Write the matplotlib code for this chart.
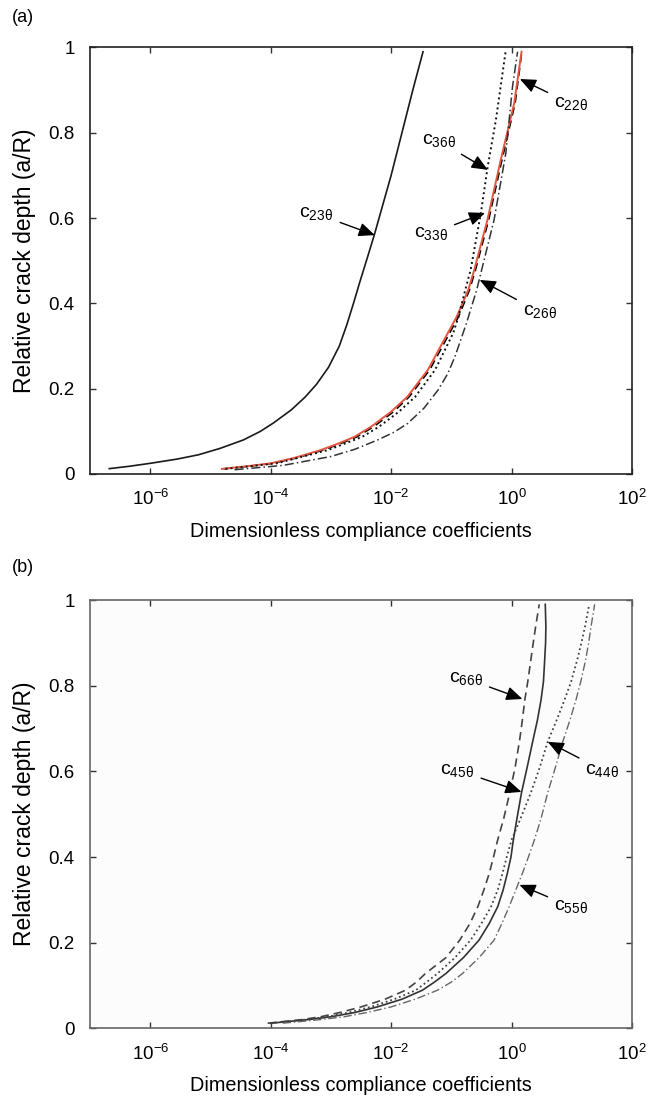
import matplotlib
matplotlib.use("Agg")
import matplotlib.pyplot as plt
import numpy as np

plt.rcParams['font.family'] = ['Liberation Sans', 'DejaVu Sans']
plt.rcParams['mathtext.fontset'] = 'custom'
plt.rcParams['mathtext.rm'] = 'Liberation Sans'
plt.rcParams['mathtext.it'] = 'Liberation Sans:italic'
plt.rcParams['mathtext.default'] = 'regular'
plt.rcParams['axes.unicode_minus'] = False

# ---- panel (a) : log10 of coefficient vs relative crack depth ----
c23_logx = [-6.68, -6.35, -6.0, -5.55, -5.2, -4.84, -4.45, -4.17, -3.95, -3.66, -3.43, -3.24, -3.04,
            -2.95, -2.86, -2.735, -2.625, -2.52, -2.41, -2.28, -2.14, -2.0, -1.82, -1.64, -1.47]
c23_y = [0.0125, 0.018, 0.025, 0.035, 0.045, 0.06, 0.08, 0.10, 0.12, 0.15, 0.18, 0.21, 0.25,
         0.275, 0.30, 0.35, 0.40, 0.45, 0.50, 0.56, 0.63, 0.70, 0.80, 0.90, 0.99]

c33_logx = [-4.81, -4.4, -4.0, -3.6, -3.17, -2.9, -2.61, -2.33, -2.0, -1.73, -1.39, -1.06, -0.91,
            -0.72, -0.62, -0.40, -0.18, 0.045, 0.166]
c33_y = [0.012, 0.018, 0.025, 0.038, 0.056, 0.07, 0.087, 0.111, 0.146, 0.181, 0.244, 0.33, 0.369,
         0.431, 0.478, 0.596, 0.736, 0.87, 0.99]

c22_logx = [-4.78, -4.37, -3.96, -3.56, -3.13, -2.86, -2.57, -2.29, -1.96, -1.70, -1.36, -1.03, -0.88,
            -0.70, -0.60, -0.38, -0.16, 0.06, 0.17]
c22_y = c33_y

c36_logx = [-4.75, -3.9, -3.05, -2.48, -2.2, -1.87, -1.6, -1.27, -0.97, -0.88, -0.77, -0.68, -0.51,
            -0.40, -0.26, -0.095]
c36_y = [0.012, 0.025, 0.056, 0.087, 0.111, 0.146, 0.181, 0.244, 0.33, 0.369, 0.431, 0.478, 0.611,
         0.717, 0.83, 0.994]

c26_logx = [-4.6, -3.8, -3.0, -2.6, -2.22, -1.95, -1.72, -1.45, -1.22, -1.06, -0.94, -0.75, -0.58,
            -0.29, -0.095, 0.016, 0.10]
c26_y = [0.01, 0.02, 0.041, 0.058, 0.08, 0.098, 0.119, 0.155, 0.197, 0.235, 0.275, 0.353, 0.431,
         0.596, 0.752, 0.908, 0.99]

# ---- panel (b) ----
b_y = [0.012, 0.02, 0.027, 0.037, 0.05, 0.068, 0.089, 0.108, 0.128, 0.165, 0.206, 0.245, 0.284, 0.323,
       0.362, 0.40, 0.44, 0.49, 0.55, 0.61, 0.669, 0.72, 0.767, 0.81, 0.86, 0.90, 0.938, 0.99]
c66_logx = [-4.05, -3.5, -3.17, -2.85, -2.5, -2.1, -1.76, -1.58, -1.43, -1.09, -0.86, -0.69, -0.56, -0.46,
            -0.37, -0.30, -0.23, -0.13, -0.03, 0.06, 0.13, 0.18, 0.22, 0.27, 0.32, 0.36, 0.40, 0.46]
c45_logx = [-4.0, -3.4, -3.0, -2.6, -2.23, -1.82, -1.48, -1.28, -1.09, -0.80, -0.54, -0.37, -0.23, -0.14,
            -0.07, -0.01, 0.03, 0.09, 0.165, 0.26, 0.35, 0.43, 0.49, 0.53, 0.55, 0.565, 0.57, 0.56]
c44_logx = [-4.0, -3.45, -3.06, -2.7, -2.34, -1.95, -1.59, -1.41, -1.23, -0.94, -0.68, -0.50, -0.34, -0.23,
            -0.15, -0.08, 0.0, 0.15, 0.32, 0.47, 0.60, 0.75, 0.88, 0.99, 1.09, 1.16, 1.22, 1.29]
c55_logx = [-3.8, -3.2, -2.78, -2.4, -2.0, -1.6, -1.23, -1.0, -0.815, -0.54, -0.29, -0.16, -0.04, 0.07,
            0.18, 0.28, 0.38, 0.49, 0.60, 0.73, 0.85, 0.97, 1.07, 1.15, 1.23, 1.28, 1.32, 1.38]

x_ticks = [1e-6, 1e-4, 1e-2, 1e0, 1e2]
y_ticks = [0, 0.2, 0.4, 0.6, 0.8, 1]
y_ticklabels = ['0', '0.2', '0.4', '0.6', '0.8', '1']

# label, tip (log10 x, y), text (log10 x, y)
notes_a = [(r'c$_{23\theta}$', (-2.27, 0.56), (-3.24, 0.61)),
           (r'c$_{36\theta}$', (-0.394, 0.713), (-1.21, 0.781)),
           (r'c$_{33\theta}$', (-0.44, 0.612), (-1.34, 0.563)),
           (r'c$_{22\theta}$', (0.138, 0.926), (0.99, 0.868)),
           (r'c$_{26\theta}$', (-0.53, 0.455), (0.47, 0.38))]
notes_b = [(r'c$_{66\theta}$', (0.18, 0.769), (-0.76, 0.817)),
           (r'c$_{45\theta}$', (0.165, 0.552), (-0.9, 0.603)),
           (r'c$_{44\theta}$', (0.60, 0.669), (1.51, 0.603)),
           (r'c$_{55\theta}$', (0.13, 0.335), (0.99, 0.284))]


def setup(ax, spine_color):
    ax.set_xscale('log')
    ax.set_xlim(1e-7, 1e2)
    ax.set_ylim(0, 1)
    ax.set_xticks(x_ticks)
    ax.minorticks_off()
    ax.set_yticks(y_ticks)
    ax.set_yticklabels(y_ticklabels)
    ax.tick_params(direction='in', length=4, width=1, top=True, right=True,
                   labelsize=13.5, color='#333333')
    ax.tick_params(axis='x', pad=11)
    ax.tick_params(axis='y', pad=11)
    for s in ax.spines.values():
        s.set_color(spine_color)
        s.set_linewidth(1.2)
    ax.set_xlabel('Dimensionless compliance coefficients', fontsize=14.3, labelpad=9)
    ax.set_ylabel('Relative crack depth (a/R)', fontsize=16.5, labelpad=9)


def annotate(ax, notes):
    for txt, tip, pos in notes:
        ax.annotate(txt, xy=(10 ** tip[0], tip[1]), xytext=(10 ** pos[0], pos[1]),
                    ha='center', va='center', fontsize=14,
                    arrowprops=dict(arrowstyle='-|>,head_length=0.7,head_width=0.3',
                                    color='black', lw=1.0, shrinkA=3, shrinkB=0))


fig = plt.figure(figsize=(6.48, 11.01), dpi=100)
ax1 = fig.add_axes([0.1389, 0.5695, 0.8364, 0.3874])
ax2 = fig.add_axes([0.1389, 0.0660, 0.8364, 0.3890])

setup(ax1, '#222222')
ax1.plot(10 ** np.array(c23_logx), c23_y, color='#1a1a1a', lw=1.2)
ax1.plot(10 ** np.array(c22_logx), c22_y, color='black', lw=1.2, ls=(0, (5, 3)), zorder=2)
ax1.plot(10 ** np.array(c33_logx), c33_y, color='#e4553f', lw=1.4, zorder=3)
ax1.plot(10 ** np.array(c36_logx), c36_y, color='#111111', lw=1.4, ls=(0, (1, 1.6)), zorder=4)
ax1.plot(10 ** np.array(c26_logx), c26_y, color='#333333', lw=1.1, ls=(0, (6, 2, 1, 2)), zorder=4)
annotate(ax1, notes_a)

setup(ax2, '#666666')
ax2.set_facecolor('#fcfcfc')
ax2.plot(10 ** np.array(c66_logx), b_y, color='#444444', lw=1.2, ls=(0, (5, 3)))
ax2.plot(10 ** np.array(c45_logx), b_y, color='#333333', lw=1.2)
ax2.plot(10 ** np.array(c44_logx), b_y, color='#444444', lw=1.3, ls=(0, (1, 1.6)))
ax2.plot(10 ** np.array(c55_logx), b_y, color='#666666', lw=1.0, ls=(0, (6, 2, 1, 2)))
annotate(ax2, notes_b)

fig.text(0.018, 1 - 17 / 1101, '(a)', fontsize=13, va='center', ha='left')
fig.text(0.018, 1 - 568 / 1101, '(b)', fontsize=13, va='center', ha='left')

fig.savefig('out.png', dpi=100)
